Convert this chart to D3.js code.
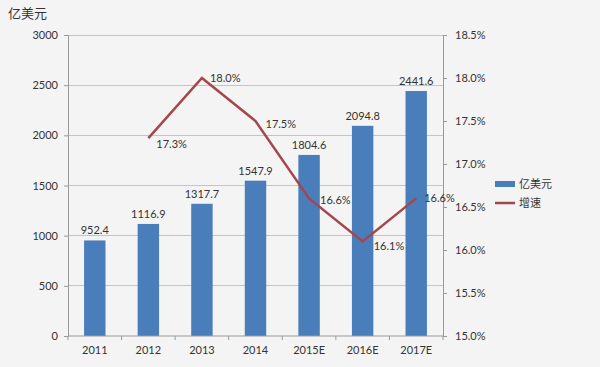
<!DOCTYPE html>
<html><head><meta charset="utf-8">
<script src="https://cdn.jsdelivr.net/npm/d3@7"></script>
<style>
body{margin:0;background:#f4f4f4;}
svg{display:block;}
text{font-family:Lato,"Open Sans","Noto Sans CJK SC",sans-serif;fill:#333;}
</style></head><body>
<svg id="c" width="600" height="367"></svg>
<script>
const categories = ["2011","2012","2013","2014","2015E","2016E","2017E"];
const revenue = [952.4,1116.9,1317.7,1547.9,1804.6,2094.8,2441.6];
const growthYears = ["2012","2013","2014","2015E","2016E","2017E"];
const growth = [17.3,18.0,17.5,16.6,16.1,16.6];
const leftTicks = [0,500,1000,1500,2000,2500,3000];
const rightTicks = [15.0,15.5,16.0,16.5,17.0,17.5,18.0,18.5];
const seriesNames = ["亿美元","增速"];
const unitLabel = "亿美元";

const svg = d3.select("#c");
const L=68,R=443,T=35,B=336;
const x = d3.scaleBand().domain(categories).range([L,R]);
const yL = d3.scaleLinear().domain([0,3000]).range([B,T]);
const yR = d3.scaleLinear().domain([15,18.5]).range([B,T]);
const blue="#4a7ebb", red="#a4464c";
const CJK='"Noto Sans CJK SC",sans-serif';

// gridlines
svg.append("g").selectAll("line").data(leftTicks.slice(1)).join("line")
  .attr("x1",L).attr("x2",R).attr("y1",d=>yL(d)).attr("y2",d=>yL(d))
  .attr("stroke","#c4c4c4").attr("stroke-width",1).attr("shape-rendering","crispEdges");

// bars
const bw = x.bandwidth()*0.4;
svg.append("g").selectAll("rect").data(revenue).join("rect")
  .attr("x",(d,i)=>x(categories[i])+x.bandwidth()/2-bw/2)
  .attr("width",bw)
  .attr("y",d=>yL(d)).attr("height",d=>B-yL(d)).attr("fill",blue);

svg.append("g").selectAll("text").data(revenue).join("text")
  .attr("x",(d,i)=>x(categories[i])+x.bandwidth()/2)
  .attr("y",d=>yL(d)-6).attr("text-anchor","middle")
  .attr("font-size",11).text(d=>d.toFixed(1));

// axes
const axL = svg.append("g").attr("transform",`translate(${L},0)`)
  .call(d3.axisLeft(yL).tickValues(leftTicks).tickSize(4).tickPadding(6).tickFormat(d3.format("d")));
const axR = svg.append("g").attr("transform",`translate(${R},0)`)
  .call(d3.axisRight(yR).tickValues(rightTicks).tickSize(4).tickPadding(8).tickFormat(d=>d.toFixed(1)+"%"));
const axB = svg.append("g").attr("transform",`translate(0,${B})`)
  .call(d3.axisBottom(x).tickSize(0).tickPadding(10));
// category separators
svg.append("g").selectAll("line").data(d3.range(categories.length+1)).join("line")
  .attr("x1",i=>L+i*x.step()).attr("x2",i=>L+i*x.step())
  .attr("y1",B).attr("y2",B+4).attr("stroke","#999");
[axL,axR,axB].forEach(a=>{
  a.selectAll("path").attr("stroke","#999");
  a.selectAll(".tick line").attr("stroke","#999");
  a.selectAll("text").attr("font-size",11).attr("fill","#333")
    .attr("font-family","Lato,sans-serif");
});
axB.select("path").attr("d",`M${L},0H${R}`);

// line
const pts = growth.map((g,i)=>[x(growthYears[i])+x.bandwidth()/2, yR(g)]);
svg.append("path").datum(pts).attr("d",d3.line())
  .attr("fill","none").attr("stroke",red).attr("stroke-width",2.5);
const offs=[[8,6],[8,0],[10,3],[11,2],[11,5],[8,0]];
svg.append("g").selectAll("text").data(growth).join("text")
  .attr("x",(d,i)=>pts[i][0]+offs[i][0])
  .attr("y",(d,i)=>pts[i][1]+offs[i][1]+4)
  .attr("font-size",11).text(d=>d.toFixed(1)+"%");

// title
svg.append("text").attr("x",8).attr("y",18).attr("font-size",13)
  .attr("font-family",CJK).text(unitLabel);

// legend
const lg = svg.append("g");
lg.append("rect").attr("x",495).attr("y",181).attr("width",20).attr("height",6).attr("fill",blue);
lg.append("line").attr("x1",495).attr("x2",515).attr("y1",203).attr("y2",203).attr("stroke",red).attr("stroke-width",2.5);
lg.selectAll("text").data(seriesNames).join("text")
  .attr("x",519).attr("y",(d,i)=>184+i*19+4).attr("font-size",11)
  .attr("font-family",CJK).text(d=>d);
</script></body></html>
